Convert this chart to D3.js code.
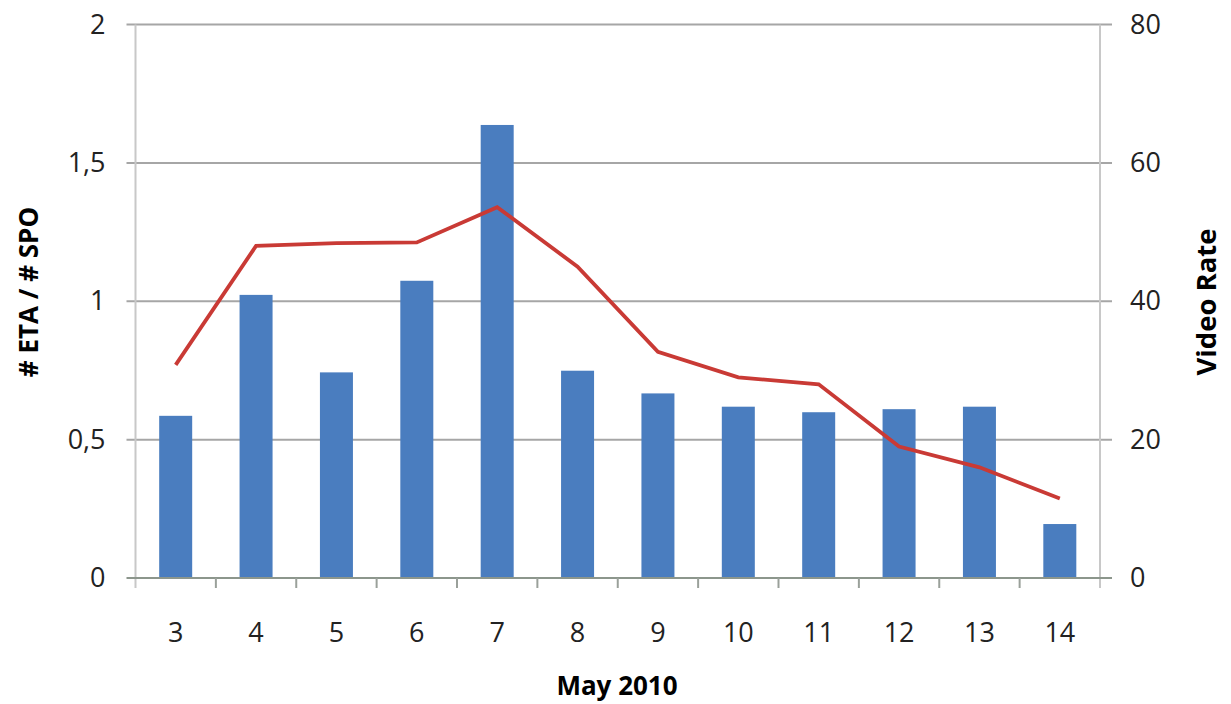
<!DOCTYPE html>
<html>
<head>
<meta charset="utf-8">
<script src="https://cdn.jsdelivr.net/npm/d3@7"></script>
<style>
  html, body { margin: 0; padding: 0; background: #fff; }
  svg { display: block; }
</style>
</head>
<body>
<svg id="chart" width="1231" height="704"></svg>
<script>
// Days of May 2010
const days = ["3", "4", "5", "6", "7", "8", "9", "10", "11", "12", "13", "14"];
// # ETA / # SPO ratio (left axis, bars)
const ratio = [0.586, 1.023, 0.743, 1.074, 1.637, 0.749, 0.667, 0.619, 0.599, 0.610, 0.619, 0.195];
// Video rate (right axis, line)
const videoRate = [30.8, 48.0, 48.4, 48.5, 53.6, 45.0, 32.7, 29.0, 28.0, 19.0, 16.0, 11.5];
// Tick values and labels
const leftTicks = [0, 0.5, 1, 1.5, 2];
const leftTickLabels = ["0", "0,5", "1", "1,5", "2"];
const rightTicks = [0, 20, 40, 60, 80];

(function draw() {
  const svg = d3.select("#chart");
  const plotLeft = 135.5, plotRight = 1100, plotTop = 24.5, plotBottom = 578;
  const font = "'Open Sans', 'DejaVu Sans', sans-serif";

  const x = d3.scaleBand().domain(days).range([plotLeft, plotRight]).paddingInner(0).paddingOuter(0);
  const yL = d3.scaleLinear().domain([0, 2]).range([plotBottom, plotTop]);
  const yR = d3.scaleLinear().domain([0, 80]).range([plotBottom, plotTop]);

  // horizontal gridlines, extended past both axes as tick marks
  svg.append("g")
    .selectAll("line")
    .data(leftTicks.filter(d => d > 0))
    .join("line")
    .attr("x1", plotLeft - 9).attr("x2", plotRight + 12)
    .attr("y1", d => yL(d)).attr("y2", d => yL(d))
    .attr("stroke", "#a6a6a6").attr("stroke-width", 2);

  // vertical axis lines
  svg.append("line")
    .attr("x1", plotLeft).attr("x2", plotLeft).attr("y1", plotTop).attr("y2", plotBottom + 10)
    .attr("stroke", "#c8c8c8").attr("stroke-width", 2);
  svg.append("line")
    .attr("x1", plotRight).attr("x2", plotRight).attr("y1", plotTop).attr("y2", plotBottom + 10)
    .attr("stroke", "#c8c8c8").attr("stroke-width", 2);

  // bars
  const bw = 33;
  svg.append("g")
    .selectAll("rect")
    .data(days)
    .join("rect")
    .attr("x", d => x(d) + x.bandwidth() / 2 - bw / 2)
    .attr("width", bw)
    .attr("y", (d, i) => yL(ratio[i]))
    .attr("height", (d, i) => yL(0) - yL(ratio[i]))
    .attr("fill", "#4a7dbf");

  // x axis baseline and category ticks
  svg.append("line")
    .attr("x1", plotLeft - 9).attr("x2", plotRight + 12).attr("y1", plotBottom).attr("y2", plotBottom)
    .attr("stroke", "#8c968c").attr("stroke-width", 2);
  const gx = svg.append("g").attr("transform", `translate(0,${plotBottom})`)
    .call(d3.axisBottom(x).tickSize(0).tickPadding(0));
  gx.select(".domain").remove();
  gx.selectAll("text")
    .attr("y", 64)
    .attr("dy", "0")
    .attr("font-family", font).attr("font-size", 27).attr("fill", "#222");
  svg.append("g")
    .selectAll("line")
    .data(days.slice(1))
    .join("line")
    .attr("x1", d => x(d)).attr("x2", d => x(d))
    .attr("y1", plotBottom).attr("y2", plotBottom + 10)
    .attr("stroke", "#9aa09a").attr("stroke-width", 2);

  // line series
  const line = d3.line()
    .x((d, i) => x(days[i]) + x.bandwidth() / 2)
    .y(d => yR(d));
  svg.append("path")
    .datum(videoRate)
    .attr("d", line)
    .attr("fill", "none")
    .attr("stroke", "#c93a35")
    .attr("stroke-width", 3.8)
    .attr("stroke-linejoin", "miter");

  // left axis labels
  const gl = svg.append("g").attr("transform", `translate(${plotLeft},0)`)
    .call(d3.axisLeft(yL).tickValues(leftTicks).tickFormat((d, i) => leftTickLabels[i]).tickSize(0).tickPadding(30));
  gl.select(".domain").remove();
  gl.selectAll("text").attr("font-family", font).attr("font-size", 27).attr("fill", "#222");

  // right axis labels
  const gr = svg.append("g").attr("transform", `translate(${plotRight},0)`)
    .call(d3.axisRight(yR).tickValues(rightTicks).tickSize(0).tickPadding(30));
  gr.select(".domain").remove();
  gr.selectAll("text").attr("font-family", font).attr("font-size", 27).attr("fill", "#222");

  // axis titles
  svg.append("text")
    .attr("transform", `translate(38,292) rotate(-90)`)
    .attr("text-anchor", "middle")
    .attr("font-family", font).attr("font-weight", "bold").attr("font-size", 26).attr("fill", "#000")
    .text("# ETA / # SPO");
  svg.append("text")
    .attr("transform", `translate(1216,302) rotate(-90)`)
    .attr("text-anchor", "middle")
    .attr("font-family", font).attr("font-weight", "bold").attr("font-size", 27.5).attr("fill", "#000")
    .text("Video Rate");
  svg.append("text")
    .attr("x", 617).attr("y", 695)
    .attr("text-anchor", "middle")
    .attr("font-family", font).attr("font-weight", "bold").attr("font-size", 26).attr("fill", "#000")
    .text("May 2010");
})();
</script>
</body>
</html>
